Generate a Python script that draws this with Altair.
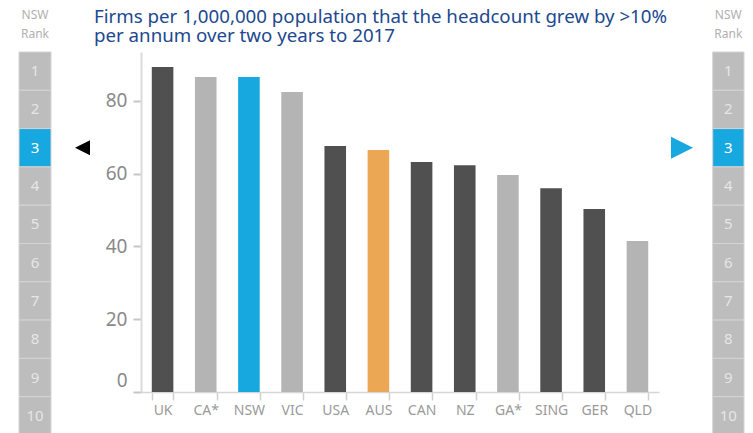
import altair as alt
import pandas as pd

countries = ["UK", "CA*", "NSW", "VIC", "USA", "AUS", "CAN", "NZ", "GA*", "SING", "GER", "QLD"]
values = [89.3, 86.5, 86.5, 82.4, 67.6, 66.5, 63.2, 62.3, 59.6, 56.0, 50.3, 41.5]
bar_groups = ["dark", "light", "nsw", "light", "dark", "aus", "dark", "dark", "light", "dark", "dark", "light"]
y_ticks = [0, 20, 40, 60, 80]
ranks = list(range(1, 11))
nsw_rank = 3
title_lines = ["Firms per 1,000,000 population that the headcount grew by >10%",
               "per annum over two years to 2017"]
rank_header = ["NSW", "Rank"]

FONT = "Noto Sans"
BLUE = "#17a8e0"

df = pd.DataFrame({"country": countries, "value": values, "group": bar_groups})
rank_df = pd.DataFrame({"rank": ranks, "is_nsw": [r == nsw_rank for r in ranks]})
arrow_df = pd.DataFrame({"rank": [nsw_rank]})
one = pd.DataFrame({"k": [0]})

bars = alt.Chart(df).mark_bar().encode(
    x=alt.X("country:N", sort=countries,
            scale=alt.Scale(paddingInner=0.5, paddingOuter=0.25),
            axis=alt.Axis(title=None, labelAngle=0, labelFontSize=14, labelColor="#9a9a9a",
                          labelFont=FONT, tickBand="extent", tickSize=8, tickColor="#d0d0d0",
                          tickWidth=1.5, domainColor="#d6d6d6", domainWidth=1.5, labelPadding=3)),
    y=alt.Y("value:Q", scale=alt.Scale(domain=[0, 93.4], nice=False),
            axis=alt.Axis(title=None, values=y_ticks, labelFontSize=19, labelColor="#8a8a8a",
                          labelFont=FONT, grid=False, tickSize=8, tickColor="#c6c6c6", tickWidth=2,
                          domainColor="#dcdcdc", domainWidth=2, labelPadding=6,
                          labelOffset={"condition": {"test": "datum.value === 0", "value": -12}, "value": 0})),
    color=alt.Color("group:N",
                    scale=alt.Scale(domain=["dark", "light", "nsw", "aus"],
                                    range=["#505050", "#b4b4b4", BLUE, "#eca755"]),
                    legend=None),
)

rank_y = alt.Y("rank:O", scale=alt.Scale(domain=ranks, range=[0, 383], paddingInner=0, paddingOuter=0),
               axis=None)
box_color = alt.condition("datum.is_nsw", alt.value(BLUE), alt.value("#bdbdbd"))
num_color = alt.condition("datum.is_nsw", alt.value("#ffffff"), alt.value("#e6e6e6"))

rank_base = alt.Chart(rank_df)
left_boxes = rank_base.mark_rect(stroke="#d4d4d4", strokeWidth=1).encode(
    y=rank_y, x=alt.value(-122), x2=alt.value(-90), color=box_color)
left_nums = rank_base.mark_text(fontSize=15, font=FONT).encode(
    y=rank_y, x=alt.value(-106), text="rank:O", color=num_color)
right_boxes = rank_base.mark_rect(stroke="#d4d4d4", strokeWidth=1).encode(
    y=rank_y, x=alt.value(571.7), x2=alt.value(603), color=box_color)
right_nums = rank_base.mark_text(fontSize=15, font=FONT).encode(
    y=rank_y, x=alt.value(587.3), text="rank:O", color=num_color)

left_arrow = alt.Chart(arrow_df).mark_point(shape="M1,-1L-1,0L1,1Z", filled=True, size=225,
                                            color="#000000", opacity=1).encode(
    y=rank_y, x=alt.value(-58.5))
right_arrow = alt.Chart(arrow_df).mark_point(shape="M-1,-1L1,0L-1,1Z", filled=True, size=484,
                                             color=BLUE, opacity=1).encode(
    y=rank_y, x=alt.value(541))

rank_layer = alt.layer(left_boxes, left_nums, right_boxes, right_nums, left_arrow, right_arrow)

def label(text, x, y, size, color, align="left"):
    return alt.Chart(one).mark_text(align=align, baseline="alphabetic", fontSize=size,
                                    color=color, font=FONT).encode(
        x=alt.value(x), y=alt.value(y), text=alt.value(text))

annots = [
    label(title_lines[0], -47, -29, 18.7, "#21488f"),
    label(title_lines[1], -47, -10, 18.7, "#21488f"),
    label(rank_header[0], -106, -33, 12, "#b0b0b0", "center"),
    label(rank_header[1], -106, -14, 12, "#b0b0b0", "center"),
    label(rank_header[0], 587.3, -33, 12, "#b0b0b0", "center"),
    label(rank_header[1], 587.3, -14, 12, "#b0b0b0", "center"),
]

chart = alt.layer(bars, rank_layer, *annots).resolve_scale(y="independent").properties(
    width=518, height=340,
    padding={"left": 133, "top": 44, "right": 86, "bottom": 41},
    autosize=alt.AutoSizeParams(type="none"),
    background="#ffffff",
).configure_view(stroke=None)

chart.save("out.html", embed_options={"renderer": "svg", "actions": False})
